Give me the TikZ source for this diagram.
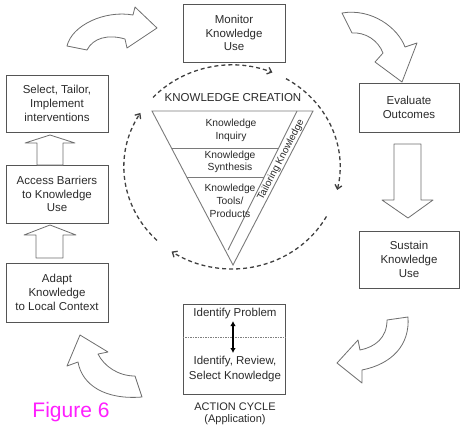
\documentclass[tikz,border=0pt]{standalone}
\usepackage{fontspec}
\setmainfont{Liberation Sans}
\usetikzlibrary{arrows.meta,calc}
\definecolor{boxline}{HTML}{555555}
\definecolor{txt}{HTML}{2A2A2A}
\definecolor{triline}{HTML}{7A7A7A}
\definecolor{arrline}{HTML}{6E6E6E}
\definecolor{dashline}{HTML}{404040}
\definecolor{figmag}{HTML}{FF1EFF}
\begin{document}
\begin{tikzpicture}[x=1pt,y=-1pt,
  box/.style={draw=boxline, line width=0.9pt, text=txt, align=center, inner sep=0pt,
    minimum width=102pt, font=\fontsize{11.5}{13.8}\selectfont},
  blockarrow/.style={draw=arrline, line width=0.8pt, fill=white, line join=round},
  cyc/.style={draw=dashline, line width=1.3pt, dash pattern=on 4pt off 3pt,
    -{Straight Barb[length=4pt,width=7pt]}},
  tri/.style={draw=triline, line width=0.9pt},
  tritext/.style={text=txt, align=center, inner sep=0pt, font=\fontsize{10.3}{13}\selectfont},
  plain/.style={text=txt, align=center, inner sep=0pt, font=\fontsize{11}{12.5}\selectfont},
]
\useasboundingbox (0,0) rectangle (460,426);

% boxes
\node[box, minimum height=58pt] (monitor) at (234,33) {Monitor\\Knowledge\\Use};
\node[box, minimum width=100pt, minimum height=49pt] (evaluate) at (409,107.5) {Evaluate\\Outcomes};
\node[box, minimum width=100pt, minimum height=57pt] (sustain) at (409,259.5) {Sustain\\Knowledge\\Use};
\node[box, minimum height=90pt] (idbox) at (234,349) {};
\node[box, minimum height=57pt] (select) at (57,103.5) {Select, Tailor,\\Implement\\interventions};
\node[box, minimum height=58pt] (access) at (57,194) {Access Barriers\\to Knowledge\\Use};
\node[box, minimum height=59pt] (adapt) at (57,292.5) {Adapt\\Knowledge\\to Local Context};

% identify box content
\node[plain, font=\fontsize{11.5}{13.8}\selectfont] (problem) at (235,314) {Identify Problem};
\node[plain, font=\fontsize{11.5}{15.5}\selectfont] (review) at (235,369) {Identify, Review,\\Select Knowledge};
\draw[draw=gray, line width=0.6pt, dash pattern=on 1.5pt off 1pt] (idbox.west |- 0,337) -- (idbox.east |- 0,337);
\coordinate (dtop) at (233,321);
\coordinate (dbot) at (233,353);
\draw[black, line width=1.8pt, {Latex[length=5pt,width=5.5pt]}-{Latex[length=5pt,width=5.5pt]}] (dtop) -- (dbot);
\node[plain] (action) at (235,407) {ACTION CYCLE};
\node[plain] (applic) at (235,419.5) {(Application)};

% knowledge creation funnel
\node[plain, font=\fontsize{11.5}{13}\selectfont] (kc) at (233,98) {KNOWLEDGE CREATION};
\draw[tri] (152,111) -- (313,111) -- (233,265) -- cycle;
\draw[tri] (297,111) -- (228,250);
\draw[tri] (171.5,148) -- (278.6,148);
\draw[tri] (186.7,177) -- (264.2,177);
\node[tritext] (inquiry) at (231,130) {Knowledge\\Inquiry};
\node[tritext, font=\fontsize{10.3}{12.5}\selectfont] (synth) at (230,162) {Knowledge\\Synthesis};
\node[tritext] (tools) at (230,201) {Knowledge\\Tools/\\Products};
\node[tritext, font=\fontsize{10}{12}\selectfont, rotate=62.5] (tailoring) at (281,160) {Tailoring Knowledge};

% dashed cycle around the funnel
\coordinate (cc) at (232,167);
\draw[cyc] ($(cc)+(134:108 and 102)$) arc[start angle=134, end angle=212, x radius=108, y radius=102];
\draw[cyc] ($(cc)+(223:108 and 102)$) arc[start angle=223, end angle=292, x radius=108, y radius=102];
\draw[cyc] ($(cc)+(300:108 and 102)$) arc[start angle=300, end angle=373, x radius=108, y radius=102];
\draw[cyc] ($(cc)+(29:108 and 102)$) arc[start angle=29, end angle=124, x radius=108, y radius=102];

% curved block arrows
\draw[blockarrow] (67,46) .. controls (72,25) and (105,10) .. (133,15) -- (135,7) -- (157,28)
  -- (127,48) -- (125,39) .. controls (108,34) and (93,38) .. (87,50) -- cycle;
\draw[blockarrow] (342,13) .. controls (372,8) and (398,28) .. (405,47) -- (417,43) -- (402,82)
  -- (375,62) -- (383,53) .. controls (378,40) and (365,32) .. (352,33) -- cycle;
\draw[blockarrow] (387,320) -- (408,317) .. controls (410,345) and (392,364) .. (362,370)
  -- (362,383) -- (337,363) -- (358,340) -- (360,350) .. controls (375,347) and (387,338) .. (387,320) -- cycle;
\draw[blockarrow] (80,335) -- (108,352) -- (98,354) .. controls (104,366) and (118,376) .. (135,376)
  -- (142,397) .. controls (105,400) and (82,385) .. (78,362) -- (67,366) -- cycle;

% straight block arrows
\draw[blockarrow] (394,144) -- (421,144) -- (421,200) -- (433,200) -- (408,218) -- (382,200) -- (394,200) -- cycle;
\draw[blockarrow] (37,165) -- (37,143) -- (25,143) -- (50,135) -- (75,143) -- (63,143) -- (63,165) -- cycle;
\draw[blockarrow] (36,258) -- (36,235) -- (24,235) -- (50,225) -- (76,235) -- (63,235) -- (63,258) -- cycle;

% caption
\node[text=figmag, inner sep=0pt, font=\fontsize{21}{24}\selectfont] (fig) at (71,412) {Figure 6};
\end{tikzpicture}
\end{document}
